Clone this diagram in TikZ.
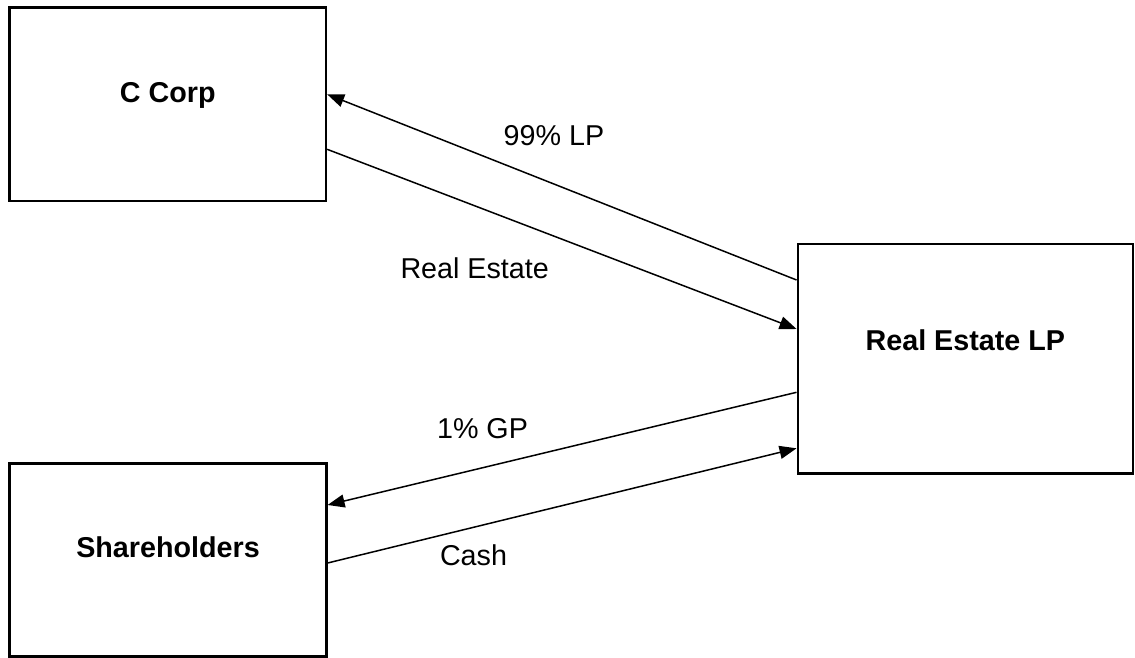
\documentclass[tikz,border=0pt]{standalone}
\usepackage{fontspec}
\setmainfont{Liberation Sans}
\usetikzlibrary{arrows.meta}
\begin{document}
\begin{tikzpicture}[x=1pt,y=-1pt,
  box/.style={draw=black, line width=2.2pt, fill=white, inner sep=0pt,
    font=\fontsize{28.7}{34}\selectfont\bfseries, text height=21pt},
  flow/.style={line width=1.5pt, -{Triangle[length=17pt,width=13pt]}},
  lbl/.style={anchor=base, inner sep=0pt, font=\fontsize{28.7}{34}\selectfont}]
\useasboundingbox[fill=white] (0,0) rectangle (1135,658);
\node[box, minimum width=316.5pt, minimum height=193.5pt, text depth=25pt] (ccorp) at (167.8,104.3) {C Corp};
\node[box, minimum width=335.3pt, minimum height=229.5pt, text depth=38.6pt] (lp) at (965.3,358.8) {Real Estate LP};
\node[box, minimum width=317pt, minimum height=193pt, text depth=26.6pt] (sh) at (168,560) {Shareholders};
\draw[flow] ([yshift=78.8pt]lp.west) -- ([yshift=10pt]ccorp.east);
\draw[flow] ([yshift=-45pt]ccorp.east) -- ([yshift=29.8pt]lp.west);
\draw[flow] ([yshift=-33.5pt]lp.west) -- ([yshift=55pt]sh.east);
\draw[flow] ([yshift=-3pt]sh.east) -- ([yshift=-89.5pt]lp.west);
\node[lbl] (l1) at (554,146) {99\% LP};
\node[lbl] (l2) at (474.7,278) {Real Estate};
\node[lbl] (l3) at (482.5,438) {1\% GP};
\node[lbl] (l4) at (473.5,565) {Cash};
\end{tikzpicture}
\end{document}
